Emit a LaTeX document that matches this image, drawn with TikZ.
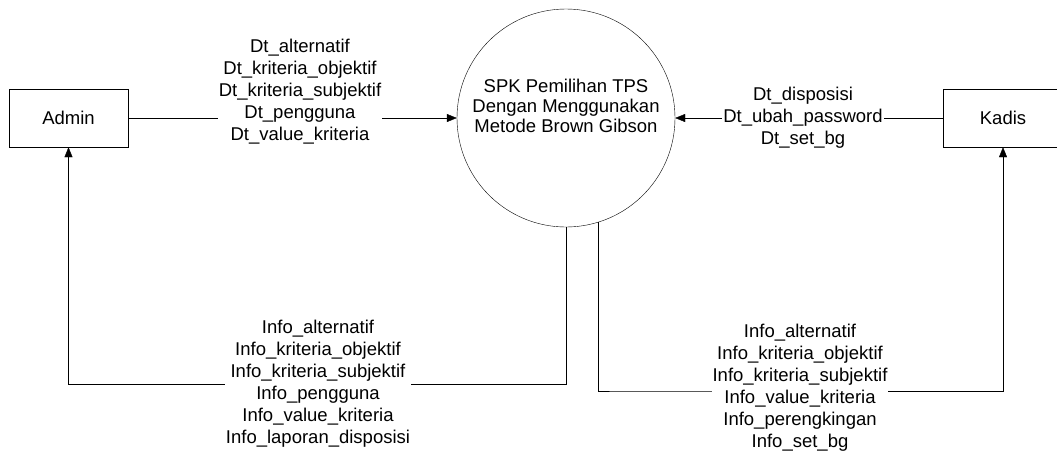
\documentclass[tikz,border=0pt]{standalone}
\usepackage{fontspec}
\setmainfont{Liberation Sans}
\usepackage{tikz}
\usetikzlibrary{arrows.meta}

\begin{document}
\begin{tikzpicture}[x=1pt, y=-1pt,
        every node/.style={font=\fontsize{18.5}{22}\selectfont},
        entity/.style={draw, thin, minimum width=119pt, minimum height=58pt},
        proc/.style={draw, thin, circle, minimum size=218pt, inner sep=0pt},
        lbl/.style={fill=white, align=center, inner sep=1pt},
        flow/.style={thin, -{Triangle[length=10pt, width=8pt]}}]
        \useasboundingbox (0,0) rectangle (1057,456);

        \node[entity] (admin) at (68.5,118) {Admin};
        \node[entity] (kadis) at (1003,118) {Kadis};
        \node[proc] (spk) at (566,118) {};
        \node[align=center, font=\fontsize{18.5}{20}\selectfont] (spktext) at (566,106)
            {SPK Pemilihan TPS\\Dengan Menggunakan\\Metode Brown Gibson};

        \coordinate (infoadmin) at (566,384);
        \coordinate (infokadis) at (620,391);

        \draw[flow] (admin) -- (spk);
        \node[lbl] (dtadmin) at (300,92)
            {Dt\_alternatif\\Dt\_kriteria\_objektif\\Dt\_kriteria\_subjektif\\Dt\_pengguna\\Dt\_value\_kriteria};

        \draw[flow] (kadis) -- (spk);
        \node[lbl] (dtkadis) at (803,118)
            {Dt\_disposisi\\Dt\_ubah\_password\\Dt\_set\_bg};

        \draw[flow] (spk.south) -- (infoadmin) -| (admin.south);
        \node[lbl] (infoadminlbl) at (318,384)
            {Info\_alternatif\\Info\_kriteria\_objektif\\Info\_kriteria\_subjektif\\Info\_pengguna\\Info\_value\_kriteria\\Info\_laporan\_disposisi};

        \draw[flow] (spk.-73) |- (infokadis) -| (kadis.south);
        \node[lbl] (infokadislbl) at (800,388)
            {Info\_alternatif\\Info\_kriteria\_objektif\\Info\_kriteria\_subjektif\\Info\_value\_kriteria\\Info\_perengkingan\\Info\_set\_bg};
    \end{tikzpicture}
\end{document}
